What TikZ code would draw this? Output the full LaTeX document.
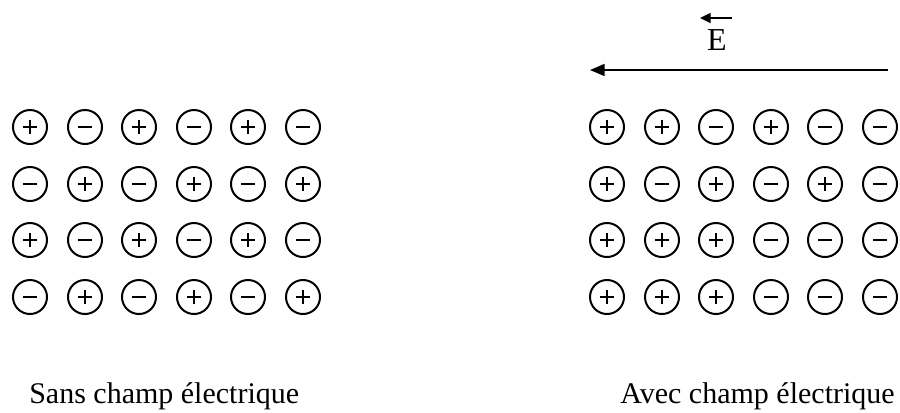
\documentclass[tikz,border=0pt]{standalone}
\usepackage{fontspec}
\setmainfont{Liberation Serif}
\usetikzlibrary{arrows.meta}
\begin{document}
\begin{tikzpicture}[x=0.75pt,y=-0.75pt,
  ion/.style={draw,circle,line width=1.5pt,minimum size=25.5pt,inner sep=0pt},
  sgn/.style={line width=1.4pt},
  lbl/.style={font=\fontsize{22.5pt}{26pt}\selectfont,anchor=base west,inner sep=0pt},
  field/.style={line width=1.3pt,-{Triangle[length=11pt,width=9pt]}}]
\useasboundingbox (0,0) rectangle (900,412);
% left lattice: no field
\foreach \row/\yy/\signs in {1/127/{1,0,1,0,1,0},2/184/{0,1,0,1,0,1},3/240/{1,0,1,0,1,0},4/297/{0,1,0,1,0,1}}{
  \foreach \s [count=\c] in \signs {
    \pgfmathsetmacro{\xx}{round(30+54.6*(\c-1))}
    \node[ion] (L-\row-\c) at (\xx,\yy) {};
    \draw[sgn] (\xx-7,\yy) -- (\xx+7,\yy);
    \ifnum\s=1 \draw[sgn] (\xx,\yy-7) -- (\xx,\yy+7);\fi
  }
}
% right lattice: with field
\foreach \row/\yy/\signs in {1/127/{1,1,0,1,0,0},2/184/{1,0,1,0,1,0},3/240/{1,1,1,0,0,0},4/297/{1,1,1,0,0,0}}{
  \foreach \s [count=\c] in \signs {
    \pgfmathsetmacro{\xx}{round(607+54.6*(\c-1))}
    \node[ion] (R-\row-\c) at (\xx,\yy) {};
    \draw[sgn] (\xx-7,\yy) -- (\xx+7,\yy);
    \ifnum\s=1 \draw[sgn] (\xx,\yy-7) -- (\xx,\yy+7);\fi
  }
}
% field arrow
\coordinate (fs) at (888,70);
\coordinate (fe) at (590,70);
\draw[field] (fs) -- (fe);
% E with vector arrow
\node[font=\fontsize{24pt}{28pt}\selectfont,inner sep=0pt,anchor=base] (E) at (717,50) {E};
\coordinate (es) at (732,18);
\coordinate (ee) at (700,18);
\draw[line width=1.1pt,-{Triangle[length=8pt,width=7.5pt]}] (es) -- (ee);
% captions
\node[lbl] (capL) at (29,403) {Sans champ électrique};
\node[lbl,anchor=base east] (capR) at (895,403) {Avec champ électrique};
\end{tikzpicture}
\end{document}
